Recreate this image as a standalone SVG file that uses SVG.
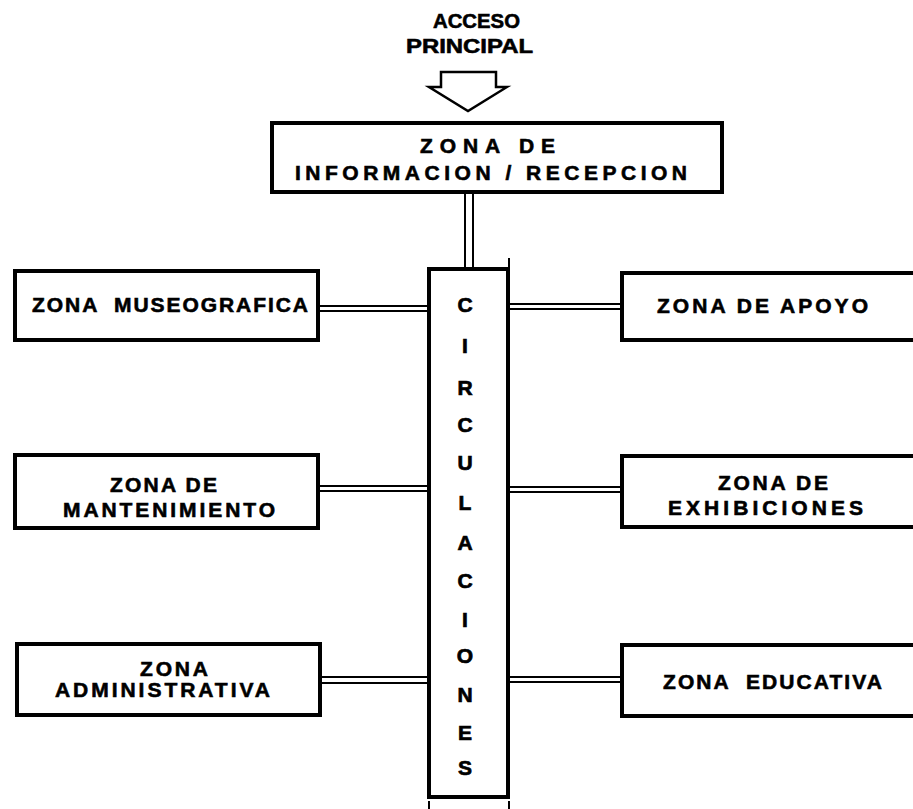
<svg xmlns="http://www.w3.org/2000/svg" width="913" height="809" viewBox="0 0 913 809">
<style>
.box{fill:#fff;stroke:#000;stroke-width:4}
.t{font-family:"Liberation Sans",Arial,sans-serif;font-weight:bold;font-size:21px;fill:#000;stroke:#000;stroke-width:0.6}
.ct{font-family:"Liberation Sans",Arial,sans-serif;font-weight:bold;font-size:21px;fill:#000;stroke:#000;stroke-width:0.7;text-anchor:middle}
.c{stroke:#000;stroke-width:2;fill:none}
</style>
<rect width="913" height="809" fill="#fff"/>
<g id="acceso">
<text class="t" x="433" y="28" font-size="20" textLength="87" lengthAdjust="spacingAndGlyphs">ACCESO</text>
<text class="t" x="406" y="53" font-size="20" textLength="127" lengthAdjust="spacingAndGlyphs">PRINCIPAL</text>
<polygon points="441,72 496,72 496,87 507,87 468,111 429,87 441,87" fill="#fff" stroke="#000" stroke-width="2.5" stroke-linejoin="miter"/>
</g>
<g id="connectors">
<line class="c" x1="465" y1="192" x2="465" y2="270"/>
<line class="c" x1="473" y1="192" x2="473" y2="270"/>
<line class="c" x1="318" y1="306" x2="429" y2="306"/>
<line class="c" x1="318" y1="311" x2="429" y2="311"/>
<line class="c" x1="508" y1="304" x2="622" y2="304"/>
<line class="c" x1="508" y1="309" x2="622" y2="309"/>
<line class="c" x1="318" y1="486" x2="429" y2="486"/>
<line class="c" x1="318" y1="491" x2="429" y2="491"/>
<line class="c" x1="508" y1="487" x2="622" y2="487"/>
<line class="c" x1="508" y1="492" x2="622" y2="492"/>
<line class="c" x1="318" y1="677" x2="429" y2="677"/>
<line class="c" x1="318" y1="683" x2="429" y2="683"/>
<line class="c" x1="508" y1="677" x2="622" y2="677"/>
<line class="c" x1="508" y1="682" x2="622" y2="682"/>
</g>
<g id="informacion">
<rect class="box" x="272" y="123" width="450" height="69"/>
<text class="t" x="420" y="153" font-size="22" textLength="135" lengthAdjust="spacing">ZONA DE</text>
<text class="t" x="295" y="180" font-size="22" textLength="392" lengthAdjust="spacing">INFORMACION / RECEPCION</text>
</g>
<g id="circulaciones">
<rect class="box" x="429" y="269" width="79" height="528"/>
<line class="c" x1="509" y1="258" x2="509" y2="270" stroke-width="3"/>
<line class="c" x1="429" y1="801" x2="429" y2="809" stroke-width="3"/>
<line class="c" x1="509" y1="801" x2="509" y2="809" stroke-width="3"/>
<text class="ct" x="465" y="312">C</text>
<text class="ct" x="465" y="353">I</text>
<text class="ct" x="465" y="395">R</text>
<text class="ct" x="465" y="432">C</text>
<text class="ct" x="465" y="470">U</text>
<text class="ct" x="465" y="510">L</text>
<text class="ct" x="465" y="550">A</text>
<text class="ct" x="465" y="588">C</text>
<text class="ct" x="465" y="627">I</text>
<text class="ct" x="465" y="663">O</text>
<text class="ct" x="465" y="702">N</text>
<text class="ct" x="465" y="740">E</text>
<text class="ct" x="465" y="775">S</text>
</g>
<g id="museografica">
<rect class="box" x="15" y="271" width="303" height="69"/>
<text class="t" x="32" y="312" font-size="22" textLength="276" lengthAdjust="spacing" xml:space="preserve">ZONA  MUSEOGRAFICA</text>
</g>
<g id="mantenimiento">
<rect class="box" x="15" y="455" width="303" height="73"/>
<text class="t" x="110" y="492" textLength="107" lengthAdjust="spacing">ZONA DE</text>
<text class="t" x="63" y="517" textLength="212" lengthAdjust="spacing">MANTENIMIENTO</text>
</g>
<g id="administrativa">
<rect class="box" x="17" y="644" width="303" height="71"/>
<text class="t" x="140" y="676" font-size="18" textLength="68" lengthAdjust="spacing">ZONA</text>
<text class="t" x="55" y="697" font-size="18" textLength="215" lengthAdjust="spacing">ADMINISTRATIVA</text>
</g>
<g id="apoyo">
<rect class="box" x="622" y="273" width="310" height="67"/>
<text class="t" x="657" y="313" font-size="22" textLength="211" lengthAdjust="spacing">ZONA DE APOYO</text>
</g>
<g id="exhibiciones">
<rect class="box" x="622" y="456" width="310" height="71"/>
<text class="t" x="718" y="490" textLength="110" lengthAdjust="spacing">ZONA DE</text>
<text class="t" x="668" y="515" textLength="195" lengthAdjust="spacing">EXHIBICIONES</text>
</g>
<g id="educativa">
<rect class="box" x="622" y="645" width="310" height="71"/>
<text class="t" x="663" y="689" font-size="22" textLength="219" lengthAdjust="spacing" xml:space="preserve">ZONA  EDUCATIVA</text>
</g>
</svg>
